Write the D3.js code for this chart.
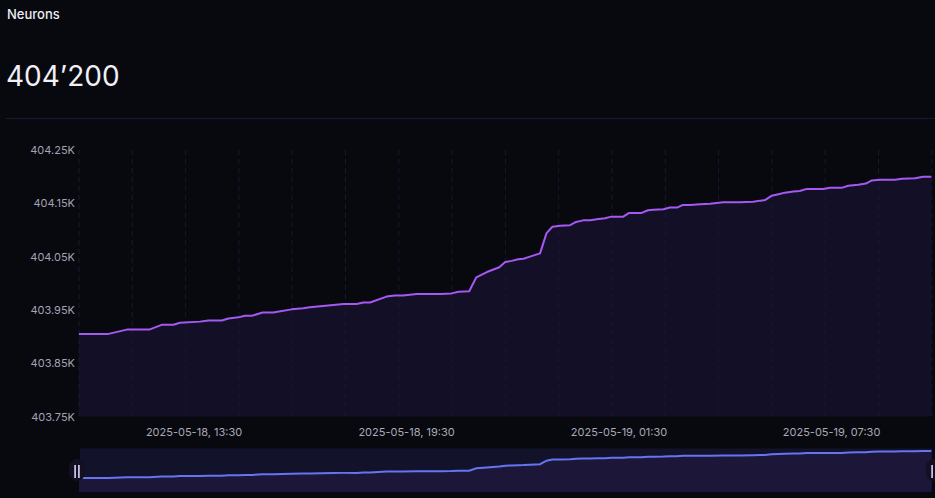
<!DOCTYPE html>
<html><head><meta charset="utf-8">
<script src="https://cdn.jsdelivr.net/npm/d3@7"></script>
<style>
html,body{margin:0;padding:0;background:#08080f;}
svg{display:block;font-family:Inter,"Noto Sans",sans-serif;}
</style></head><body>
<svg id="c" width="935" height="498"></svg>
<script>
const title = "Neurons";
const headline = "404’200";
const times = [
"2025-05-18T10:16","2025-05-18T11:06","2025-05-18T11:37","2025-05-18T12:15","2025-05-18T12:36","2025-05-18T12:56",
"2025-05-18T13:07","2025-05-18T13:41","2025-05-18T13:55","2025-05-18T14:18","2025-05-18T14:29","2025-05-18T14:46",
"2025-05-18T14:57","2025-05-18T15:09","2025-05-18T15:27","2025-05-18T15:45","2025-05-18T16:16","2025-05-18T16:36",
"2025-05-18T16:47","2025-05-18T17:27","2025-05-18T17:44","2025-05-18T18:06","2025-05-18T18:18","2025-05-18T18:29",
"2025-05-18T18:57","2025-05-18T19:11","2025-05-18T19:25","2025-05-18T19:48","2025-05-18T20:28","2025-05-18T20:47",
"2025-05-18T20:59","2025-05-18T21:17","2025-05-18T21:29","2025-05-18T21:47","2025-05-18T22:08","2025-05-18T22:18",
"2025-05-18T22:29","2025-05-18T22:40","2025-05-18T22:49","2025-05-18T23:00","2025-05-18T23:17","2025-05-18T23:28",
"2025-05-18T23:38","2025-05-18T23:51","2025-05-19T00:08","2025-05-19T00:18","2025-05-19T00:30","2025-05-19T00:42",
"2025-05-19T00:53","2025-05-19T01:07","2025-05-19T01:18","2025-05-19T01:38","2025-05-19T01:48","2025-05-19T02:09",
"2025-05-19T02:20","2025-05-19T02:29","2025-05-19T02:46","2025-05-19T02:57","2025-05-19T03:09","2025-05-19T03:19",
"2025-05-19T03:31","2025-05-19T03:48","2025-05-19T04:05","2025-05-19T04:27","2025-05-19T04:56","2025-05-19T05:18",
"2025-05-19T05:30","2025-05-19T05:38","2025-05-19T05:49","2025-05-19T06:01","2025-05-19T06:12","2025-05-19T06:26",
"2025-05-19T06:37","2025-05-19T06:49","2025-05-19T07:17","2025-05-19T07:28","2025-05-19T07:48","2025-05-19T07:59",
"2025-05-19T08:16","2025-05-19T08:29","2025-05-19T08:39","2025-05-19T08:53","2025-05-19T09:18","2025-05-19T09:30",
"2025-05-19T09:52","2025-05-19T10:06","2025-05-19T10:20"];
const values = [
403905,403905,403913,403913,403922,403922,
403926,403928,403930,403930,403934,403936,
403939,403939,403945,403945,403951,403953,
403955,403959,403961,403961,403964,403964,
403975,403977,403977,403980,403980,403981,
403984,403985,404011,404021,404030,404040,
404042,404045,404046,404050,404056,404094,
404106,404108,404109,404115,404118,404118,
404120,404122,404125,404125,404132,404132,
404137,404138,404139,404142,404142,404147,
404147,404148,404149,404152,404152,404153,
404155,404156,404164,404167,404170,404172,
404173,404177,404177,404179,404179,404183,
404185,404187,404193,404194,404194,404196,
404197,404200,404200];
const yTicks = [403750,403850,403950,404050,404150,404250];
const xTickTimes = ["2025-05-18T13:30","2025-05-18T19:30","2025-05-19T01:30","2025-05-19T07:30"];

const parse = d3.timeParse("%Y-%m-%dT%H:%M");
const data = times.map((t,i)=>({t:parse(t), v:values[i]}));

const svg = d3.select("#c");
const L = 79, R = 932, T = 150, B = 416.5;

const x = d3.scaleTime().domain([parse("2025-05-18T10:16"), parse("2025-05-19T10:21")]).range([L, R]);
const y = d3.scaleLinear().domain([403750, 404250]).range([B, T]);

// header
svg.append("text").attr("x",7).attr("y",19).attr("fill","#ececf2").attr("font-size",13).attr("font-weight",500).text(title);
svg.append("text").attr("x",6).attr("y",86).attr("fill","#f0f0f6").attr("font-size",28).attr("font-weight",400).text(headline);
svg.append("line").attr("x1",6).attr("x2",935).attr("y1",118.5).attr("y2",118.5).attr("stroke","#1a1730").attr("stroke-width",1);

// area
const area = d3.area().x(d=>x(d.t)).y0(B).y1(d=>y(d.v));
svg.append("path").datum(data).attr("d",area).attr("fill","#130f27");

// vertical dashed grid with the y tick spacing
const step = y(yTicks[0]) - y(yTicks[1]);
const gx = d3.range(L, R + 1, step);
svg.append("g").selectAll("line").data(gx).join("line")
  .attr("x1",d=>d).attr("x2",d=>d).attr("y1",T).attr("y2",B)
  .attr("stroke","#1a1831").attr("stroke-width",1).attr("stroke-dasharray","5,4");

// line
const line = d3.line().x(d=>x(d.t)).y(d=>y(d.v));
svg.append("path").datum(data).attr("d",line).attr("fill","none").attr("stroke","#a659f2").attr("stroke-width",2).attr("stroke-linejoin","round");

// y axis
const yAxis = d3.axisLeft(y).tickValues(yTicks).tickSize(0).tickPadding(0)
  .tickFormat(d=>(d/1000).toFixed(2)+"K");
const ya = svg.append("g").attr("transform",`translate(${L-4},0)`).call(yAxis);
ya.select(".domain").remove();
ya.selectAll("text").attr("fill","#a3a3b3").attr("font-size",11).attr("font-family","Inter,sans-serif");

// x axis
const fmt = d3.timeFormat("%Y-%m-%d, %H:%M");
const xAxis = d3.axisBottom(x).tickValues(xTickTimes.map(parse)).tickSize(0).tickPadding(0).tickFormat(fmt);
const xa = svg.append("g").attr("transform",`translate(0,${428})`).call(xAxis);
xa.select(".domain").remove();
xa.selectAll("text").attr("fill","#a9a9b7").attr("font-size",11).attr("font-family","Inter,sans-serif");

// navigator
const NT = 448.5, NB = 492;
const ny = d3.scaleLinear().domain(d3.extent(values)).range([478, 451]);
svg.append("rect").attr("x",L+1).attr("y",NT).attr("width",R-L-1).attr("height",NB-NT).attr("fill","#12122a");
const narea = d3.area().x(d=>x(d.t)).y0(NB).y1(d=>ny(d.v));
svg.append("path").datum(data).attr("d",narea).attr("fill","#1c1738");
const nline = d3.line().x(d=>x(d.t)).y(d=>ny(d.v));
svg.append("path").datum(data).attr("d",nline).attr("fill","none").attr("stroke","#6674f2").attr("stroke-width",2);

// handles
function handle(cx){
  const g = svg.append("g");
  g.append("rect").attr("x",cx-8).attr("y",459).attr("width",16).attr("height",22).attr("rx",8).attr("fill","#150f22");
  g.append("rect").attr("x",cx-2.7).attr("y",465).attr("width",1.6).attr("height",13).attr("fill","#d4d4ff");
  g.append("rect").attr("x",cx+1.1).attr("y",465).attr("width",1.6).attr("height",13).attr("fill","#d4d4ff");
}
handle(L-2);
handle(R+2);
</script>
</body></html>
